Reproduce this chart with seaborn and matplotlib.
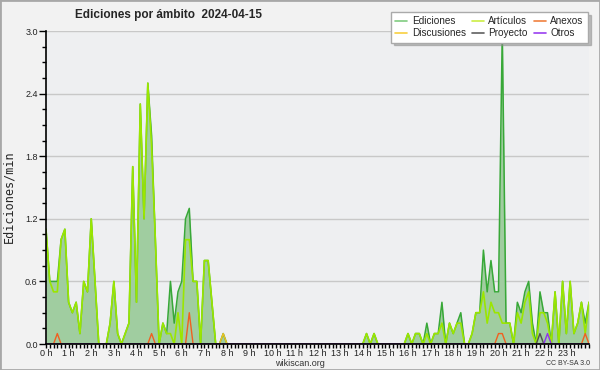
import numpy as np
import pandas as pd
import matplotlib
matplotlib.use("Agg")
import matplotlib.pyplot as plt
import seaborn as sns
from matplotlib.patches import Rectangle
from matplotlib.lines import Line2D
from matplotlib.ticker import MultipleLocator, FixedLocator, FormatStrFormatter

# ---- data: edits per minute, 10-minute bins (0 h .. 24 h) ----
ediciones = [
    1.1, 0.6, 0.6, 0.6, 1.0, 1.1, 0.4, 0.3, 0.4, 0.1, 0.6, 0.5,
    1.2, 0.6, 0.0, 0.0, 0.0, 0.2, 0.6, 0.1, 0.0, 0.1, 0.2, 1.7,
    0.4, 2.3, 1.2, 2.5, 2.0, 1.0, 0.0, 0.2, 0.1, 0.6, 0.2, 0.5,
    0.6, 1.2, 1.3, 0.6, 0.6, 0.0, 0.8, 0.8, 0.4, 0.0, 0.0, 0.1,
    0.0, 0.0, 0.0, 0.0, 0.0, 0.0, 0.0, 0.0, 0.0, 0.0, 0.0, 0.0,
    0.0, 0.0, 0.0, 0.0, 0.0, 0.0, 0.0, 0.0, 0.0, 0.0, 0.0, 0.0,
    0.0, 0.0, 0.0, 0.0, 0.0, 0.0, 0.0, 0.0, 0.0, 0.0, 0.0, 0.0,
    0.0, 0.1, 0.0, 0.1, 0.0, 0.0, 0.0, 0.0, 0.0, 0.0, 0.0, 0.0,
    0.1, 0.0, 0.1, 0.1, 0.0, 0.2, 0.0, 0.1, 0.1, 0.4, 0.0, 0.2,
    0.1, 0.2, 0.3, 0.0, 0.0, 0.1, 0.3, 0.3, 0.9, 0.5, 0.8, 0.5,
    0.5, 3.0, 0.2, 0.2, 0.0, 0.4, 0.3, 0.5, 0.6, 0.2, 0.0, 0.5,
    0.3, 0.3, 0.0, 0.5, 0.0, 0.6, 0.1, 0.6, 0.1, 0.2, 0.4, 0.2,
    0.4,
]
articulos = [
    1.1, 0.6, 0.5, 0.5, 1.0, 1.1, 0.4, 0.3, 0.4, 0.1, 0.6, 0.5,
    1.2, 0.6, 0.0, 0.0, 0.0, 0.2, 0.6, 0.1, 0.0, 0.1, 0.2, 1.7,
    0.4, 2.3, 1.2, 2.5, 1.9, 1.0, 0.0, 0.2, 0.1, 0.1, 0.0, 0.3,
    0.0, 1.0, 1.0, 0.6, 0.6, 0.0, 0.8, 0.8, 0.4, 0.0, 0.0, 0.0,
    0.0, 0.0, 0.0, 0.0, 0.0, 0.0, 0.0, 0.0, 0.0, 0.0, 0.0, 0.0,
    0.0, 0.0, 0.0, 0.0, 0.0, 0.0, 0.0, 0.0, 0.0, 0.0, 0.0, 0.0,
    0.0, 0.0, 0.0, 0.0, 0.0, 0.0, 0.0, 0.0, 0.0, 0.0, 0.0, 0.0,
    0.0, 0.1, 0.0, 0.1, 0.0, 0.0, 0.0, 0.0, 0.0, 0.0, 0.0, 0.0,
    0.1, 0.0, 0.1, 0.1, 0.0, 0.1, 0.0, 0.1, 0.1, 0.2, 0.0, 0.2,
    0.1, 0.2, 0.2, 0.0, 0.0, 0.1, 0.3, 0.3, 0.5, 0.2, 0.4, 0.3,
    0.3, 0.2, 0.2, 0.2, 0.0, 0.3, 0.2, 0.4, 0.5, 0.1, 0.0, 0.3,
    0.3, 0.2, 0.0, 0.5, 0.0, 0.6, 0.1, 0.6, 0.1, 0.2, 0.4, 0.1,
    0.4,
]
# sparse namespaces: {bin index: edits/min}
anexos_pts = {3: 0.1, 28: 0.1, 38: 0.3, 120: 0.1, 121: 0.1, 143: 0.1}
discusiones_pts = {47: 0.1}
proyecto_pts = {131: 0.1}
otros_pts = {133: 0.1}

hour_labels = [f"{h} h" for h in range(24)]

n = len(ediciones)
def dense(pts):
    arr = np.zeros(n)
    for k, v in pts.items():
        arr[k] = v
    return arr

df = pd.DataFrame({
    "t": np.arange(n) / 6.0,
    "Ediciones": ediciones,
    "Artículos": articulos,
    "Anexos": dense(anexos_pts),
    "Discusiones": dense(discusiones_pts),
    "Proyecto": dense(proyecto_pts),
    "Otros": dense(otros_pts),
})

sns.set_style("white")
plt.rcParams["font.family"] = ["Liberation Sans", "DejaVu Sans"]

fig = plt.figure(figsize=(6, 3.7), dpi=100, facecolor="#f2f2f2")
ax = fig.add_axes([46 / 600, 26 / 370, 543 / 600, 313 / 370])
ax.set_facecolor("#eeeff1")

colors = {
    "Ediciones": "#38a838",
    "Artículos": "#9be600",
    "Anexos": "#f06020",
    "Discusiones": "#f0c020",
    "Proyecto": "#505050",
    "Otros": "#9030f0",
}
legend_colors = {
    "Ediciones": "#80cc80",
    "Artículos": "#ccee44",
    "Anexos": "#f08040",
    "Discusiones": "#f8d040",
    "Proyecto": "#606060",
    "Otros": "#9a40f0",
}

ax.fill_between(df["t"], 0, df["Ediciones"], color="#a0cda0", lw=0, zorder=1)
sns.lineplot(data=df, x="t", y="Ediciones", color=colors["Ediciones"], lw=1.1, ax=ax, zorder=3)
sns.lineplot(data=df, x="t", y="Artículos", color=colors["Artículos"], lw=1.2, ax=ax, zorder=4)
for name in ["Discusiones", "Anexos", "Proyecto", "Otros"]:
    sns.lineplot(data=df, x="t", y=name, color=colors[name], lw=1.0, ax=ax, zorder=5)

ax.set_xlim(0, 24)
ax.set_ylim(0, 3.0)
ax.xaxis.set_major_locator(FixedLocator(range(24)))
ax.set_xticklabels(hour_labels)
ax.xaxis.set_minor_locator(MultipleLocator(1 / 6))
ax.yaxis.set_major_locator(MultipleLocator(0.6))
ax.yaxis.set_minor_locator(MultipleLocator(0.15))
ax.yaxis.set_major_formatter(FormatStrFormatter("%.1f"))
ax.tick_params(axis="x", which="both", direction="out", length=3, width=1, color="black",
               labelsize=6.5, pad=0.5, bottom=True, labelcolor="#222222")
ax.tick_params(axis="y", which="major", direction="out", length=5, width=1, color="black",
               labelsize=6.5, pad=1, left=True, labelcolor="#222222")
ax.tick_params(axis="y", which="minor", direction="out", length=3, width=1, color="black", left=True)
ax.yaxis.grid(True, color="#c8c8c8", lw=1)
ax.xaxis.grid(False)
ax.set_axisbelow(True)
for s in ["top", "right"]:
    ax.spines[s].set_visible(False)
for s in ["left", "bottom"]:
    ax.spines[s].set_color("black")
    ax.spines[s].set_linewidth(1.2)
    ax.spines[s].set_zorder(6)

ax.set_xlabel("")
ax.set_ylabel("Ediciones/min", fontfamily="DejaVu Sans Mono", fontsize=8.5)
ax.yaxis.set_label_coords(-(46 - 15) / 543, 0.47)

order = ["Ediciones", "Discusiones", "Artículos", "Proyecto", "Anexos", "Otros"]
handles = [Line2D([0], [0], color=legend_colors[k], lw=1.2) for k in order]
leg = fig.legend(handles, order, ncol=3, loc="upper right",
                 bbox_to_anchor=(593 / 600, 1 - 7 / 370), fontsize=7.2,
                 frameon=True, fancybox=False, shadow={"color": "#888888"},
                 edgecolor="#aaaaaa", facecolor="white", framealpha=1,
                 handlelength=1.2, columnspacing=0.6, labelspacing=0.15,
                 borderpad=0.45, handletextpad=0.45)

fig.text(168 / 600, 1 - 15 / 370, "Ediciones por ámbito  2024-04-15",
         ha="center", va="center", fontsize=8.5, fontweight="bold")
fig.text(300 / 600, 1 - 363 / 370, "wikiscan.org", ha="center", va="center",
         fontsize=6.5, color="#333333")
fig.text(590 / 600, 1 - 363.5 / 370, "CC BY-SA 3.0", ha="right", va="center",
         fontsize=5, color="#333333")

fig.add_artist(Rectangle((0, 0), 1, 1, transform=fig.transFigure, fill=False,
                         edgecolor="#a8a8a8", lw=2))

fig.savefig("out.png", dpi=100, facecolor=fig.get_facecolor())
